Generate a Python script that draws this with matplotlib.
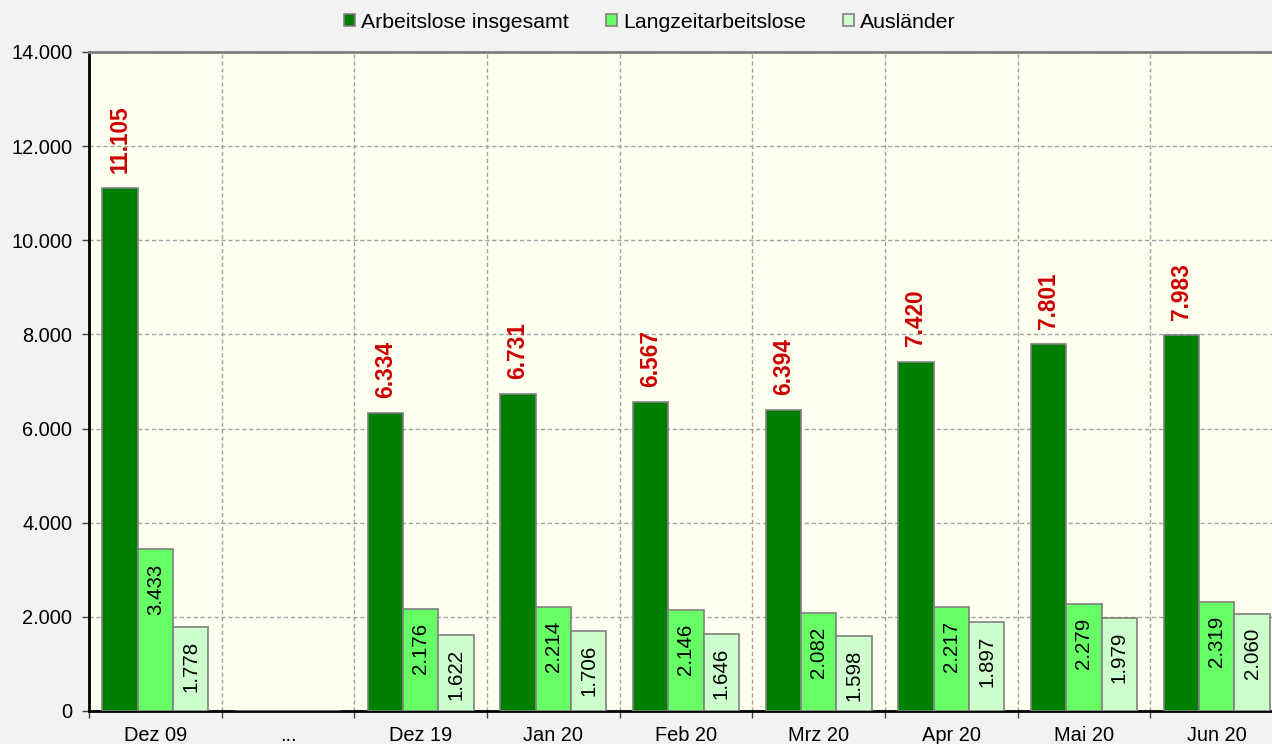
import numpy as np
import matplotlib
matplotlib.use("Agg")
import matplotlib.pyplot as plt
from matplotlib.patches import Patch

categories = ["Dez 09", "...", "Dez 19", "Jan 20", "Feb 20", "Mrz 20", "Apr 20", "Mai 20", "Jun 20"]
insgesamt = [11105, np.nan, 6334, 6731, 6567, 6394, 7420, 7801, 7983]
langzeit = [3433, np.nan, 2176, 2214, 2146, 2082, 2217, 2279, 2319]
auslaender = [1778, np.nan, 1622, 1706, 1646, 1598, 1897, 1979, 2060]
series_names = ["Arbeitslose insgesamt", "Langzeitarbeitslose", "Ausländer"]
colors = ["#008000", "#66FF66", "#CCFFCC"]

def de(v):
    return f"{int(round(v)):,}".replace(",", ".")

plt.rcParams['font.family'] = ['Liberation Sans', 'DejaVu Sans']

fig = plt.figure(figsize=(12.72, 7.44), dpi=100, facecolor="#F2F2F2")
ax = fig.add_axes([89/1272, 33/744, (1283-89)/1272, (711-52)/744])
ax.set_facecolor("#FFFFF0")

n = len(categories)
centers = np.arange(n) + 0.5
w = 0.8/3
data = [insgesamt, langzeit, auslaender]
for k, (vals, col) in enumerate(zip(data, colors)):
    xs = centers + (k-1)*w
    v = np.array(vals, dtype=float)
    ax.bar(xs, np.nan_to_num(v), width=w, color=col, edgecolor="#808080", linewidth=1.2, zorder=3)
    for x, val in zip(xs, v):
        if np.isnan(val):
            continue
        if k == 0:
            ax.annotate(de(val), (x, val), xytext=(0, 11), textcoords="offset points",
                        rotation=90, ha="center", va="bottom", color="#CC0000",
                        fontsize=16.3, fontweight="bold", zorder=4)
        else:
            ax.annotate(de(val), (x, val), xytext=(0, -10), textcoords="offset points",
                        rotation=90, ha="center", va="top", color="black",
                        fontsize=14.8, zorder=4)

ax.set_xlim(0, n)
ax.set_ylim(0, 14000)
yt = np.arange(0, 14001, 2000)
ax.set_yticks(yt)
ax.set_yticklabels([de(v) for v in yt], fontsize=14.4)
ax.set_xticks(np.arange(0, n+1))
ax.set_xticklabels([])
ax.set_xticks(centers, minor=True)
ax.set_xticklabels(categories, minor=True, fontsize=14.4)
ax.tick_params(axis="x", which="minor", length=0, pad=11)
ax.tick_params(axis="x", which="major", length=5, width=1, color="#404040")
ax.tick_params(axis="y", length=5, width=1, pad=7, color="#404040")

ax.grid(True, which="major", axis="both", linestyle=(0, (3, 2)), color="#A0A0A0", linewidth=1, zorder=0)

for s in ["left", "bottom"]:
    ax.spines[s].set_color("black")
    ax.spines[s].set_linewidth(2)
ax.spines["top"].set_color("#808080")
ax.spines["top"].set_linewidth(2)
ax.spines["right"].set_visible(False)

handles = [Patch(facecolor=c, edgecolor="#808080", linewidth=1.2) for c in colors]
fig.legend(handles, series_names, loc="center", bbox_to_anchor=(650/1272, 1-22/744),
           ncol=3, frameon=False, fontsize=15.3, handlelength=0.52, handleheight=0.52,
           handletextpad=0.28, columnspacing=1.75)

fig.savefig("out.png", dpi=100, facecolor=fig.get_facecolor())
